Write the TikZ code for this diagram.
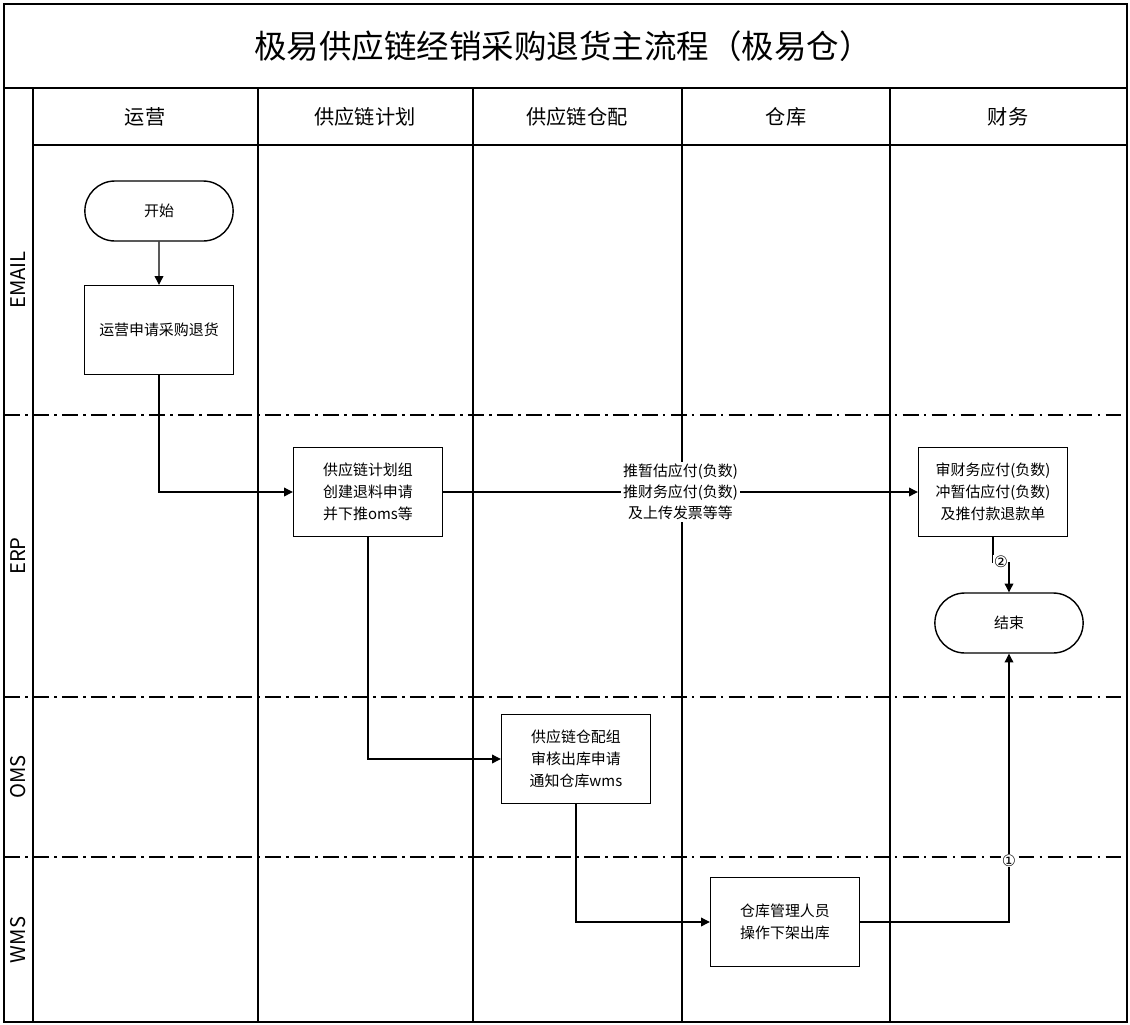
\documentclass[tikz,border=0pt]{standalone}
\usepackage{fontspec}
\setmainfont{Noto Sans CJK SC}
\newfontfamily\symfont{DejaVu Sans}
\usetikzlibrary{shapes.misc,arrows.meta}

\begin{document}
\begin{tikzpicture}[x=0.02cm,y=-0.02cm,
  frame/.style={line width=0.8pt},
  sep/.style={line width=0.9pt,dash pattern=on 9pt off 3pt on 1.5pt off 3pt},
  box/.style={draw,line width=0.8pt,minimum width=2.98cm,minimum height=1.78cm,align=center,font=\fontsize{8.5}{12.5}\selectfont},
  term/.style={draw,line width=0.8pt,rounded rectangle,minimum width=3.2cm,minimum height=1.2cm,font=\fontsize{8.5}{12}\selectfont},
  head/.style={font=\fontsize{11.5}{14}\selectfont},
  lane/.style={rotate=90,font=\fontsize{11.5}{14}\selectfont},
  flow/.style={line width=0.6pt,-{Triangle[length=5pt,width=5pt]}},
  jump/.style={fill=white,inner sep=0.5pt,font=\symfont\fontsize{9}{9}\selectfont}]
  \useasboundingbox (0,0) rectangle (1130,1025);
  % frame and lanes
  \draw[frame] (4,4) rectangle (1127,1022);
  \draw[frame] (4,88) -- (1127,88);
  \draw[frame] (33,88) -- (33,1022);
  \draw[frame] (33,145) -- (1127,145);
  \foreach \x in {258,473,682,890}
    \draw[frame] (\x,88) -- (\x,1022);
  \foreach \y in {415,697,857}
    \draw[sep] (4,\y) -- (1127,\y);
  % titles
  \node[font=\fontsize{18.5}{22}\selectfont] (title) at (563,46) {极易供应链经销采购退货主流程（极易仓）};
  \node[head] (h1) at (145,117) {运营};
  \node[head] (h2) at (365,117) {供应链计划};
  \node[head] (h3) at (577,117) {供应链仓配};
  \node[head] (h4) at (786,117) {仓库};
  \node[head] (h5) at (1008,117) {财务};
  \node[lane] (l1) at (18,280) {EMAIL};
  \node[lane] (l2) at (18,556) {ERP};
  \node[lane] (l3) at (18,777) {OMS};
  \node[lane] (l4) at (18,940) {WMS};
  % steps
  \node[term] (start) at (159,211) {开始};
  \node[box] (apply) at (159,330) {运营申请采购退货};
  \node[box] (plan) at (368,492) {供应链计划组\\创建退料申请\\并下推oms等};
  \node[box] (fin) at (993,492) {审财务应付(负数)\\冲暂估应付(负数)\\及推付款退款单};
  \node[term] (stop) at (1009,623) {结束};
  \node[box] (audit) at (576,759) {供应链仓配组\\审核出库申请\\通知仓库wms};
  \node[box] (store) at (785,922) {仓库管理人员\\操作下架出库};
  \coordinate (c2) at (1009,562);
  % flows
  \draw[flow] (start) -- (apply);
  \draw[flow] (apply.south) |- (plan.west);
  \draw[flow] (plan) -- node[fill=white,align=center,inner sep=1pt,font=\fontsize{8.5}{12}\selectfont]{推暂估应付(负数)\\推财务应付(负数)\\及上传发票等等} (fin);
  \draw[line width=0.6pt] (fin.south) |- node[pos=0.75,jump]{②} (c2);
  \draw[flow] (c2) -- (stop.north);
  \draw[flow] (plan.south) |- (audit.west);
  \draw[flow] (audit.south) |- (store.west);
  \draw[flow] (store.east) -| node[pos=0.615,jump]{①} (stop.south);
\end{tikzpicture}
\end{document}
